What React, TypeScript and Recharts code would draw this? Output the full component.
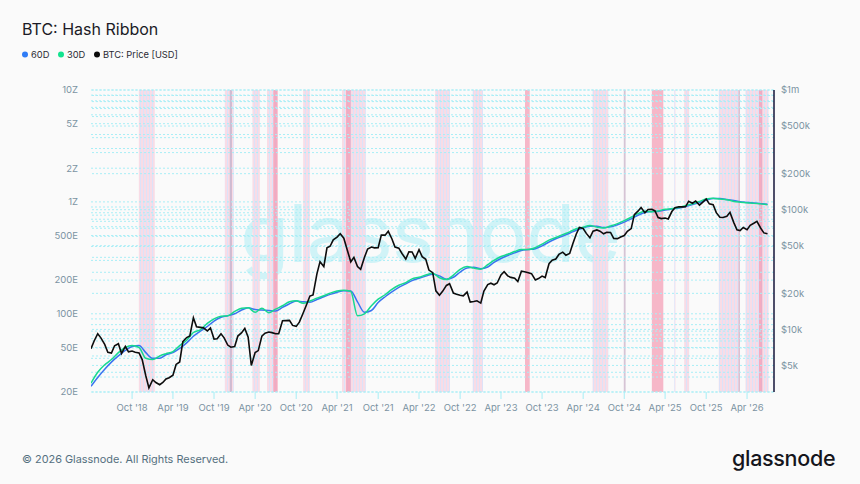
import React from "react";
import {
  ComposedChart,
  Line,
  XAxis,
  YAxis,
  ReferenceArea,
  ReferenceLine,
} from "recharts";

const WIDTH = 860;
const HEIGHT = 484;
const FONT = "Inter, 'Noto Sans', sans-serif";

// BTC price in USD, sampled on the 1st and 15th of each month, Apr 2018 – Jul 2026
const priceUsd = [
  // 2018 (Apr – Dec)
  6900, 8000, 9200, 8500, 7500, 6450, 6350, 7300, 7600, 6300, 7200, 6500,
  6600, 6450, 6350, 5600, 4100, 3250,
  // 2019
  3800, 3600, 3450, 3600, 3850, 3950, 4150, 5100, 5350, 7900, 8550, 8800,
  12500, 10500, 10400, 10300, 9700, 10300, 8300, 8350, 9200, 8500, 7400, 7100,
  // 2020
  7200, 8800, 9400, 10200, 8600, 5000, 6400, 6650, 8800, 9300, 9500, 9400,
  9200, 9200, 11800, 11850, 11900, 10800, 10600, 11500, 13700, 15900, 19000, 19400,
  // 2021
  29000, 36800, 33500, 48000, 49500, 56000, 59000, 63000, 57800, 47000, 36700, 40000,
  33500, 31800, 40000, 47000, 48800, 48000, 48200, 61500, 61300, 66000, 57200, 48800,
  // 2022
  47700, 43100, 38700, 44500, 44400, 39300, 46300, 40500, 38500, 31300, 29800, 21000,
  19300, 20800, 23300, 24100, 20100, 19700, 19300, 19100, 20500, 16900, 17100, 17350,
  // 2023
  16600, 20900, 23700, 24300, 23600, 24400, 28500, 30300, 28000, 27200, 26800, 25100,
  30600, 30300, 29700, 29200, 25900, 26600, 27900, 27100, 35400, 37800, 38700, 42300,
  // 2024
  44200, 41700, 43100, 51900, 62400, 71000, 69700, 63400, 58300, 66200, 67800, 66200,
  62900, 64800, 64600, 57500, 57300, 59100, 60800, 66000, 69500, 91000, 97200, 104400,
  // 2025
  94400, 100500, 100600, 97600, 86000, 84300, 85200, 83700, 96500, 103700, 105700, 105500,
  105700, 117700, 113300, 118300, 109200, 115300, 123000, 112000, 110000, 94500, 86500, 86000,
  // 2026 (Jan – Jul)
  88000, 95000, 78000, 68000, 67000, 71000, 68000, 74000, 77000, 80000, 70000, 64000,
  63000,
];

// hash rate moving averages in EH/s, 1st of each month, Apr 2018 – Jul 2026
const hash30d = [
  24, 30, 35, 39, 45, 50, 52, 50, 40,
  39, 42, 44, 46, 52, 58, 68, 72, 82, 90, 95, 96,
  105, 112, 113, 103, 112, 102, 110, 118, 128, 131, 124, 130,
  138, 145, 153, 160, 162, 158, 96, 100, 118, 135, 148, 165,
  180, 190, 205, 212, 222, 230, 210, 202, 222, 250, 264, 256,
  250, 275, 300, 325, 340, 360, 375, 375, 390, 420, 455, 480,
  510, 540, 575, 595, 615, 595, 585, 610, 640, 680, 730, 785,
  825, 815, 830, 860, 870, 890, 930, 960, 1010, 1060, 1080, 1060,
  1045, 1010, 995, 985, 970, 960, 945,
];

const hash60d = [
  22.5, 27, 32, 37, 42, 47, 51, 52, 45,
  40, 40, 43, 45, 49, 55, 63, 70, 77, 86, 93, 96,
  100, 108, 113, 109, 108, 107, 106, 114, 123, 130, 128, 127,
  134, 142, 149, 156, 161, 160, 128, 103, 107, 126, 142, 157,
  172, 185, 198, 208, 217, 226, 218, 204, 212, 236, 257, 260,
  253, 262, 288, 312, 332, 350, 368, 375, 382, 405, 438, 468,
  495, 525, 558, 585, 605, 605, 590, 598, 625, 660, 705, 760,
  805, 820, 822, 845, 865, 880, 910, 945, 985, 1035, 1070, 1070,
  1052, 1028, 1003, 990, 978, 965, 955,
];

// miner capitulation periods
const bandsLight: [string, string][] = [
  ["2018-10-31", "2019-01-10"],
  ["2019-11-18", "2019-12-28"],
  ["2020-03-20", "2020-04-22"],
  ["2020-05-24", "2020-07-10"],
  ["2020-11-01", "2020-12-01"],
  ["2021-04-23", "2021-08-07"],
  ["2022-06-12", "2022-08-17"],
  ["2022-11-26", "2023-01-11"],
  ["2024-05-13", "2024-07-22"],
  ["2025-05-12", "2025-05-17"],
  ["2025-06-25", "2025-07-17"],
  ["2025-11-26", "2026-02-28"],
  ["2026-03-25", "2026-07-06"],
];

const bandsRed: [string, string][] = [
  ["2020-06-21", "2020-07-10"],
  ["2021-05-11", "2021-06-01"],
  ["2023-07-17", "2023-08-07"],
  ["2025-02-01", "2025-03-24"],
  ["2026-05-24", "2026-06-08"],
];

const bandsGrey: [string, string][] = [
  ["2019-12-10", "2019-12-20"],
  ["2024-09-29", "2024-10-07"],
  ["2026-02-22", "2026-02-28"],
];

const xStart = Date.UTC(2018, 3, 1);
const xEnd = Date.UTC(2026, 6, 30);
const MONTHS = ["Jan", "Feb", "Mar", "Apr", "May", "Jun", "Jul", "Aug", "Sep", "Oct", "Nov", "Dec"];

const hashTicks = [20, 50, 100, 200, 500, 1000, 2000, 5000, 10000];
const hashTickLabels = ["20E", "50E", "100E", "200E", "500E", "1Z", "2Z", "5Z", "10Z"];
const priceTicks = [5000, 10000, 20000, 50000, 100000, 200000, 500000, 1000000];
const priceTickLabels = ["$5k", "$10k", "$20k", "$50k", "$100k", "$200k", "$500k", "$1m"];

const toTime = (s: string) => Date.parse(s + "T00:00:00Z");

const priceRows = priceUsd.map((price, i) => ({
  t: Date.UTC(2018, 3 + Math.floor(i / 2), i % 2 ? 15 : 1),
  price,
}));

const hashRows = hash30d.map((v, i) => ({
  t: Date.UTC(2018, 3 + i, 1),
  h30: v,
  h60: hash60d[i],
}));

// half-year ticks: Oct '18 … Apr '26
const xTicks: number[] = [];
for (let y = 2018; y <= 2026; y++) {
  for (const m of [3, 9]) {
    const t = Date.UTC(y, m, 1);
    if (t > xStart && t < xEnd) xTicks.push(t);
  }
}

// log minor grid for both axes
const minorSteps = (lo: number, hi: number) => {
  const out: number[] = [];
  for (let d = Math.pow(10, Math.floor(Math.log10(lo))); d < hi; d *= 10) {
    for (let k = 1; k < 10; k++) {
      const v = d * k;
      if (v >= lo && v <= hi) out.push(v);
    }
  }
  if (!out.includes(hi)) out.push(hi);
  return out;
};
const hashGrid = minorSteps(20, 10000);
const priceGrid = minorSteps(3000, 1000000);

const fmtX = (t: number) => {
  const d = new Date(t);
  return `${MONTHS[d.getUTCMonth()]} '${String(d.getUTCFullYear()).slice(2)}`;
};

const axisTick = { fill: "#7b93a2", fontSize: 9.5, fontFamily: FONT };

function Header() {
  const legend = [
    { color: "#2f7cf6", label: "60D", x: 25 },
    { color: "#13e38f", label: "30D", x: 61 },
    { color: "#0b0b0b", label: "BTC: Price [USD]", x: 97 },
  ];
  return (
    <svg
      width={WIDTH}
      height={HEIGHT}
      style={{ position: "absolute", left: 0, top: 0 }}
      fontFamily={FONT}
    >
      <rect width={WIDTH} height={HEIGHT} fill="#fafafa" />
      <text x={22} y={35} fontSize={16} fill="#1b1b26">
        BTC: Hash Ribbon
      </text>
      {legend.map((l) => (
        <g key={l.label}>
          <circle cx={l.x} cy={54.5} r={3} fill={l.color} />
          <text x={l.x + 6} y={57.6} fontSize={9.3} fill="#2a2a33">
            {l.label}
          </text>
        </g>
      ))}
      {/* watermark */}
      <text
        x={430}
        y={262}
        fontSize={80}
        textAnchor="middle"
        fill="#b4eff5"
        fillOpacity={0.6}
        letterSpacing={-1}
      >
        glassnode
      </text>
      <text x={22} y={463} fontSize={10.9} fill="#557080">
        © 2026 Glassnode. All Rights Reserved.
      </text>
      <text x={732} y={466} fontSize={21.5} fontWeight={500} fill="#15151c" letterSpacing={-0.3}>
        glassnode
      </text>
    </svg>
  );
}

export default function App() {
  return (
    <div style={{ position: "absolute", left: 0, top: 0, width: WIDTH, height: HEIGHT }}>
      <Header />
      <div style={{ position: "absolute", left: 0, top: 0 }}>
        <ComposedChart
          width={WIDTH}
          height={HEIGHT}
          data={priceRows}
          margin={{ top: 90, right: 0, bottom: 0, left: 0 }}
        >
          <defs>
            <pattern id="capStripes" width={3} height={4} patternUnits="userSpaceOnUse">
              <rect x={0} y={0} width={2} height={4} fill="#f8dce6" />
              <rect x={2} y={0} width={1} height={4} fill="#dde2f8" />
            </pattern>
          </defs>
          <XAxis
            dataKey="t"
            type="number"
            scale="time"
            domain={[xStart, xEnd]}
            ticks={xTicks}
            interval={0}
            tickFormatter={fmtX}
            tick={axisTick}
            tickSize={7}
            tickMargin={5}
            tickLine={{ stroke: "#a6eef5" }}
            axisLine={false}
            height={92}
            allowDataOverflow
          />
          <YAxis
            yAxisId="hash"
            orientation="left"
            scale="log"
            domain={[20, 10000]}
            ticks={hashTicks}
            interval={0}
            tickFormatter={(v: number) => hashTickLabels[hashTicks.indexOf(v)] ?? ""}
            tick={axisTick}
            tickLine={false}
            axisLine={false}
            tickSize={6}
            tickMargin={7}
            width={91}
            allowDataOverflow
          />
          <YAxis
            yAxisId="price"
            orientation="right"
            scale="log"
            domain={[3000, 1000000]}
            ticks={priceTicks}
            interval={0}
            tickFormatter={(v: number) => priceTickLabels[priceTicks.indexOf(v)] ?? ""}
            tick={{ ...axisTick, textAnchor: "start" }}
            tickLine={false}
            axisLine={{ stroke: "#15153a", strokeWidth: 1.5 }}
            tickSize={6}
            tickMargin={1}
            width={86}
            allowDataOverflow
          />

          {bandsLight.map(([a, b]) => (
            <ReferenceArea
              key={"l" + a}
              yAxisId="hash"
              x1={toTime(a)}
              x2={toTime(b)}
              fill="url(#capStripes)"
              fillOpacity={1}
              strokeWidth={0}
              ifOverflow="hidden"
            />
          ))}
          {bandsRed.map(([a, b]) => (
            <ReferenceArea
              key={"r" + a}
              yAxisId="hash"
              x1={toTime(a)}
              x2={toTime(b)}
              fill="#f48aa7"
              fillOpacity={0.6}
              strokeWidth={0}
              ifOverflow="hidden"
            />
          ))}
          {bandsGrey.map(([a, b]) => (
            <ReferenceArea
              key={"g" + a}
              yAxisId="hash"
              x1={toTime(a)}
              x2={toTime(b)}
              fill="#c6adc4"
              fillOpacity={0.7}
              strokeWidth={0}
              ifOverflow="hidden"
            />
          ))}

          {hashGrid.map((v) => (
            <ReferenceLine
              key={"hg" + v}
              yAxisId="hash"
              y={v}
              stroke="#a9eef6"
              strokeDasharray="2 2"
              strokeWidth={1}
            />
          ))}
          {priceGrid.map((v) => (
            <ReferenceLine
              key={"pg" + v}
              yAxisId="price"
              y={v}
              stroke="#a9eef6"
              strokeDasharray="2 2"
              strokeWidth={1}
            />
          ))}

          <Line
            yAxisId="hash"
            data={hashRows}
            dataKey="h60"
            type="monotone"
            stroke="#3a74f0"
            strokeWidth={1.5}
            dot={false}
            isAnimationActive={false}
          />
          <Line
            yAxisId="hash"
            data={hashRows}
            dataKey="h30"
            type="monotone"
            stroke="#17d98f"
            strokeWidth={1.5}
            dot={false}
            isAnimationActive={false}
          />
          <Line
            yAxisId="price"
            dataKey="price"
            type="linear"
            stroke="#0d0d0d"
            strokeWidth={1.6}
            dot={false}
            isAnimationActive={false}
          />
        </ComposedChart>
      </div>
    </div>
  );
}
